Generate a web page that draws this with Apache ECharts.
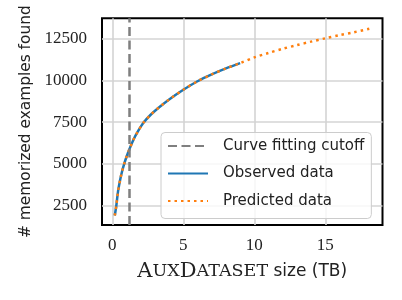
<!DOCTYPE html>
<html><head><meta charset="utf-8">
<script src="https://cdn.jsdelivr.net/npm/echarts@6/dist/echarts.min.js"></script>
<style>html,body{margin:0;padding:0;background:#fff}#c{width:402px;height:300px}</style>
</head><body><div id="c"></div>
<script>
const obsX = [0.17, 0.28, 0.4, 0.55, 0.7, 0.85, 1.0, 1.2, 1.5, 1.8, 2.2, 2.7, 3.3, 4.0, 5.0, 6.0, 7.0, 8.0, 9.0];
const obsY = [1900, 2500, 3350, 4050, 4600, 5050, 5430, 5880, 6480, 6950, 7480, 7950, 8400, 8870, 9450, 9960, 10370, 10730, 11050];
const predX = [0.17, 0.28, 0.4, 0.55, 0.7, 0.85, 1.0, 1.2, 1.5, 1.8, 2.2, 2.7, 3.3, 4.0, 5.0, 6.0, 7.0, 8.0, 9.0, 10, 11, 12, 13, 14, 15, 16, 17, 18.1];
const predY = [1900, 2500, 3350, 4050, 4600, 5050, 5430, 5880, 6480, 6950, 7480, 7950, 8400, 8870, 9450, 9960, 10370, 10730, 11050, 11390, 11660, 11910, 12130, 12340, 12540, 12730, 12900, 13110];
const cutoffX = 1.2;
const xTicks = [0, 5, 10, 15];
const yTicks = [2500, 5000, 7500, 10000, 12500];
const seriesNames = ['Curve fitting cutoff', 'Observed data', 'Predicted data'];

const zip = (xs, ys) => xs.map((x, i) => [x, ys[i]]);
const chart = echarts.init(document.getElementById('c'), null, {renderer: 'canvas'});
const grid = '#d4d4d4';
chart.setOption({
  animation: false,
  grid: {left: 102, right: 19.5, top: 18.3, bottom: 75, show: true, borderColor: '#000', borderWidth: 2, backgroundColor: 'transparent'},
  xAxis: {
    type: 'value', min: -0.73, max: 19.03,
    axisLine: {show: false}, axisTick: {show: false, customValues: xTicks},
    splitLine: {show: true, lineStyle: {color: grid, width: 1.6}},
    axisLabel: {customValues: xTicks, margin: 12, fontFamily: 'Liberation Serif', fontSize: 17, color: '#222',
      formatter: v => String(v)},
    name: '{big|A}{sc|UX}{big|D}{sc|ATASET}{sans| size (TB)}',
    nameLocation: 'middle', nameGap: 36,
    nameTextStyle: {rich: {
      big: {fontFamily: 'DejaVu Serif', fontSize: 21, color: '#222'},
      sc: {fontFamily: 'DejaVu Serif', fontSize: 17.5, color: '#222'},
      sans: {fontFamily: 'DejaVu Sans', fontSize: 17, color: '#222'}
    }}
  },
  yAxis: {
    type: 'value', min: 1330, max: 13740,
    axisLine: {show: false}, axisTick: {show: false, customValues: yTicks},
    splitLine: {show: true, lineStyle: {color: grid, width: 1.6}},
    axisLabel: {customValues: yTicks, margin: 15, fontFamily: 'Liberation Serif', fontSize: 17, color: '#222',
      formatter: v => String(v)},
    name: '# memorized examples found', nameLocation: 'middle', nameGap: 56,
    nameTextStyle: {fontFamily: 'DejaVu Sans', fontSize: 15.4, color: '#222'}
  },
  legend: {
    orient: 'vertical', left: 161, top: 132.5,
    padding: [6, 7, 10, 6], itemWidth: 40, itemHeight: 14, itemGap: 12.5,
    backgroundColor: 'rgba(255,255,255,0.8)', borderColor: '#cccccc', borderWidth: 1, borderRadius: 4,
    itemStyle: {opacity: 0},
    textStyle: {fontFamily: 'DejaVu Sans', fontSize: 15, color: '#222', padding: [0, 0, 0, 10]},
    data: seriesNames, z: 10
  },
  series: [
    {name: seriesNames[0], type: 'line', data: [], symbol: 'none',
     lineStyle: {color: '#7f7f7f', width: 2.5, type: [9, 4.5]}, itemStyle: {color: '#7f7f7f'},
     markLine: {silent: true, symbol: 'none', label: {show: false},
       lineStyle: {color: '#7f7f7f', width: 2.5, type: [9, 4.5]},
       data: [{xAxis: cutoffX}]}},
    {name: seriesNames[1], type: 'line', data: zip(obsX, obsY), symbol: 'none', smooth: 0.3,
     lineStyle: {color: '#1f77b4', width: 2.5}, itemStyle: {color: '#1f77b4'}},
    {name: seriesNames[2], type: 'line', data: zip(predX, predY), symbol: 'none', smooth: 0.3,
     lineStyle: {color: '#ff7f0e', width: 2.5, type: [2.5, 4]}, itemStyle: {color: '#ff7f0e'}}
  ]
});
</script></body></html>
